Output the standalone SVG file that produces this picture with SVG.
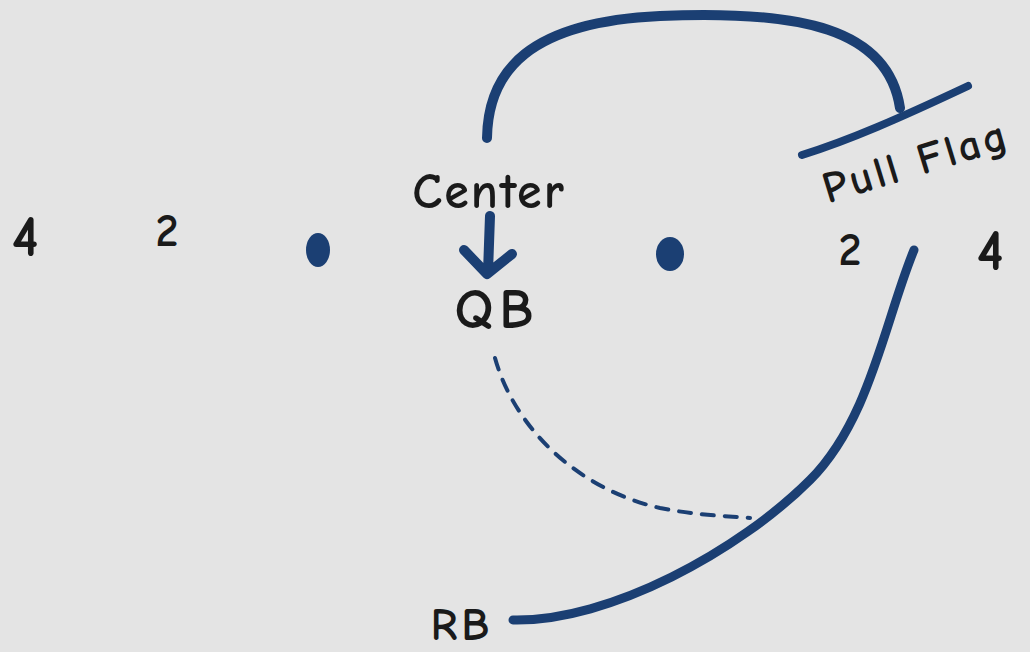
<svg xmlns="http://www.w3.org/2000/svg" width="1030" height="652" viewBox="0 0 1030 652">
<style>
.route{fill:none;stroke:#1b3f73;stroke-linecap:round;stroke-linejoin:round}
.lbl{font-family:"Comic Neue","Liberation Sans",sans-serif;fill:#1a1a1a;font-weight:bold}
.dot{fill:#1b3f73}
</style>
<rect width="1030" height="652" fill="#e4e4e4"/>
<g id="connectors">
<path class="route" d="M487,138 C488,70 530,22 660,16 C800,10 888,28 900,108" stroke-width="10"/>
<path class="route" d="M802,155 C850,140 900,118 968,86" stroke-width="8"/>
<path class="route" d="M490,216 L488,272 M464,250 L487,274 L512,254" stroke-width="10"/>
<path class="route" d="M914,250 C885,320 870,420 810,480 C740,550 610,622 513,620" stroke-width="9"/>
<path class="route" d="M495,358 C515,430 580,490 660,508 C700,516 730,516 750,518" stroke-width="4" stroke-dasharray="12,11" stroke-linecap="butt"/>
</g>
<g id="node-center"><text class="lbl" x="489" y="208" font-size="50" letter-spacing="2" text-anchor="middle">Center</text></g>
<g id="node-qb"><text class="lbl" x="497" y="328" font-size="56" letter-spacing="6" text-anchor="middle">QB</text></g>
<g id="node-rb"><text class="lbl" x="462" y="640" font-size="46" letter-spacing="4" text-anchor="middle">RB</text></g>
<g id="node-pullflag"><text class="lbl" x="916" y="176" font-size="44" letter-spacing="3" text-anchor="middle" transform="rotate(-17 916 162)">Pull Flag</text></g>
<g id="node-dot-left"><ellipse class="dot" cx="318" cy="250" rx="12" ry="17"/></g>
<g id="node-dot-right"><ellipse class="dot" cx="670" cy="254" rx="14" ry="17"/></g>
<g id="node-4-left"><text class="lbl" x="25" y="256" font-size="58" text-anchor="middle">4</text></g>
<g id="node-2-left"><text class="lbl" x="167" y="246" font-size="46" text-anchor="middle">2</text></g>
<g id="node-2-right"><text class="lbl" x="850" y="265" font-size="46" text-anchor="middle">2</text></g>
<g id="node-4-right"><text class="lbl" x="990" y="270" font-size="58" text-anchor="middle">4</text></g>
</svg>
